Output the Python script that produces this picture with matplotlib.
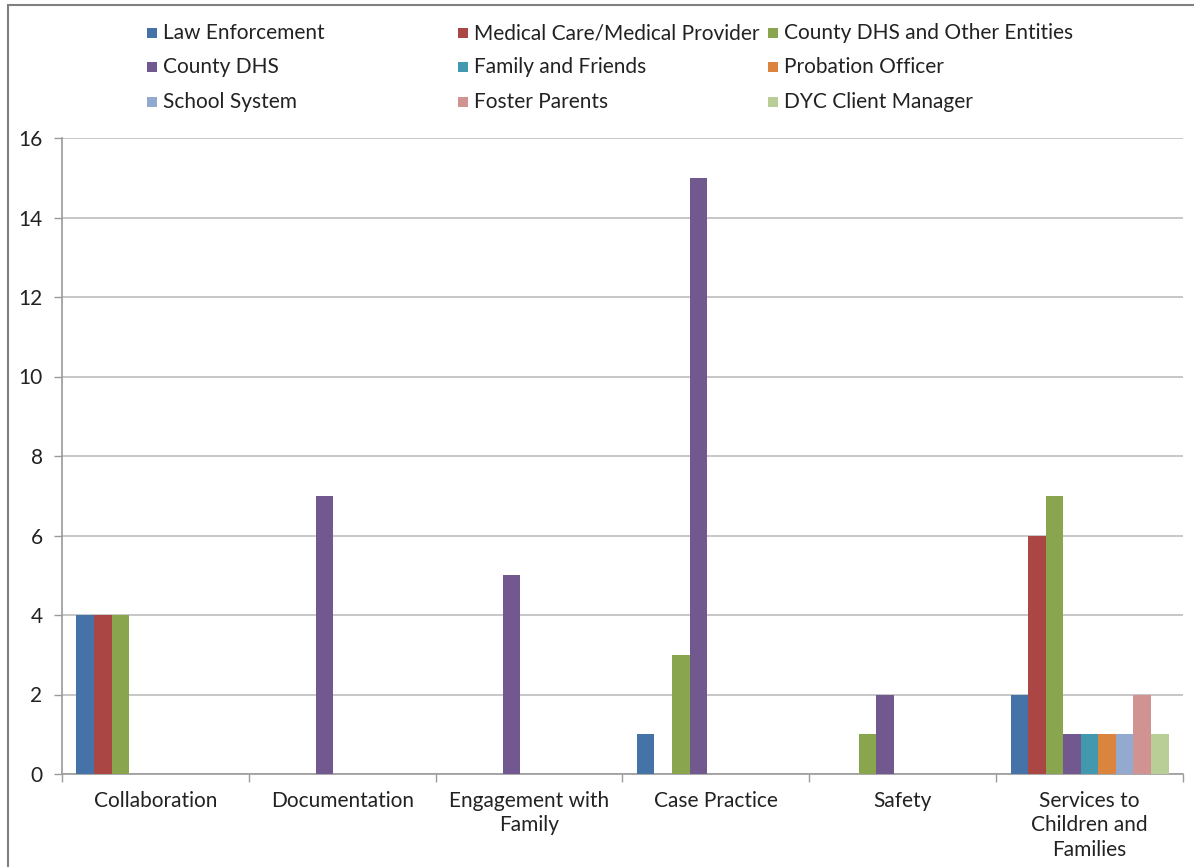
import matplotlib
matplotlib.use("Agg")
import matplotlib.pyplot as plt
import numpy as np
from matplotlib.patches import Rectangle

categories = ["Collaboration", "Documentation", "Engagement with\nFamily",
              "Case Practice", "Safety", "Services to\nChildren and\nFamilies"]
series_names = ["Law Enforcement", "Medical Care/Medical Provider",
                "County DHS and Other Entities", "County DHS",
                "Family and Friends", "Probation Officer", "School System",
                "Foster Parents", "DYC Client Manager"]
law_enforcement = [4, 0, 0, 1, 0, 2]
medical_care = [4, 0, 0, 0, 0, 6]
county_dhs_other = [4, 0, 0, 3, 1, 7]
county_dhs = [0, 7, 5, 15, 2, 1]
family_friends = [0, 0, 0, 0, 0, 1]
probation_officer = [0, 0, 0, 0, 0, 1]
school_system = [0, 0, 0, 0, 0, 1]
foster_parents = [0, 0, 0, 0, 0, 2]
dyc_client_manager = [0, 0, 0, 0, 0, 1]
series_values = [law_enforcement, medical_care, county_dhs_other, county_dhs,
                 family_friends, probation_officer, school_system,
                 foster_parents, dyc_client_manager]
colors = ["#4572A7", "#AA4643", "#89A54E", "#71588F", "#4198AF",
          "#DB843D", "#93A9CF", "#D19392", "#B9CD96"]
yticks = [0, 2, 4, 6, 8, 10, 12, 14, 16]

plt.rcParams['font.family'] = ['Lato', 'DejaVu Sans']
FS = 15
TXT = "#222222"

W, H = 1194, 867
fig = plt.figure(figsize=(W/100, H/100), dpi=100)
ax = fig.add_axes([62/W, 1-774/H, (1183-62)/W, (774-138)/H])

n = len(series_names)
bw = 0.094
x = np.arange(len(categories))
for i, (name, vals, c) in enumerate(zip(series_names, series_values, colors)):
    offs = (i - (n - 1) / 2) * bw
    ax.bar(x + offs, vals, width=bw, color=c, label=name, zorder=3)

ax.set_xlim(-0.5, len(categories) - 0.5)
ax.set_ylim(0, 16)
ax.set_yticks(yticks)
ax.set_yticklabels([str(t) for t in yticks], fontsize=FS, color=TXT)
ax.yaxis.grid(True, color="#BEBEBE", linewidth=1.2, zorder=0)
ax.set_axisbelow(True)
ax.set_xticks(x)
ax.set_xticklabels(categories, fontsize=FS, color=TXT, linespacing=1.3)
ax.set_xticks(np.arange(len(categories) + 1) - 0.5, minor=True)
ax.tick_params(axis='x', which='major', length=0, pad=12)
ax.tick_params(axis='x', which='minor', length=6, color="#9A9A9A", width=1)
ax.tick_params(axis='y', length=6, color="#9A9A9A", width=1, pad=8)
for s in ["top", "right"]:
    ax.spines[s].set_visible(False)
for s in ["left", "bottom"]:
    ax.spines[s].set_color("#9A9A9A")
    ax.spines[s].set_linewidth(1.2)

# legend: 3 columns, row-major order, fixed column widths
sq = 10
for i, (name, c) in enumerate(zip(series_names, colors)):
    row, col = divmod(i, 3)
    mx = 147 + col * 310.5
    my = 33 + row * 34.3
    fig.patches.append(Rectangle((mx/W, 1-(my+sq/2)/H), sq/W, sq/H,
                                 transform=fig.transFigure, facecolor=c,
                                 edgecolor='none'))
    fig.text((mx+16)/W, 1-my/H, name, fontsize=FS, color=TXT,
             ha="left", va="center")

# outer chart border
fig.patches.append(Rectangle((8/W, -0.05), 1.1, 1 - 5/H + 0.05,
                             transform=fig.transFigure, fill=False,
                             edgecolor="#808080", linewidth=1.5))

fig.savefig("out.png", dpi=100)
